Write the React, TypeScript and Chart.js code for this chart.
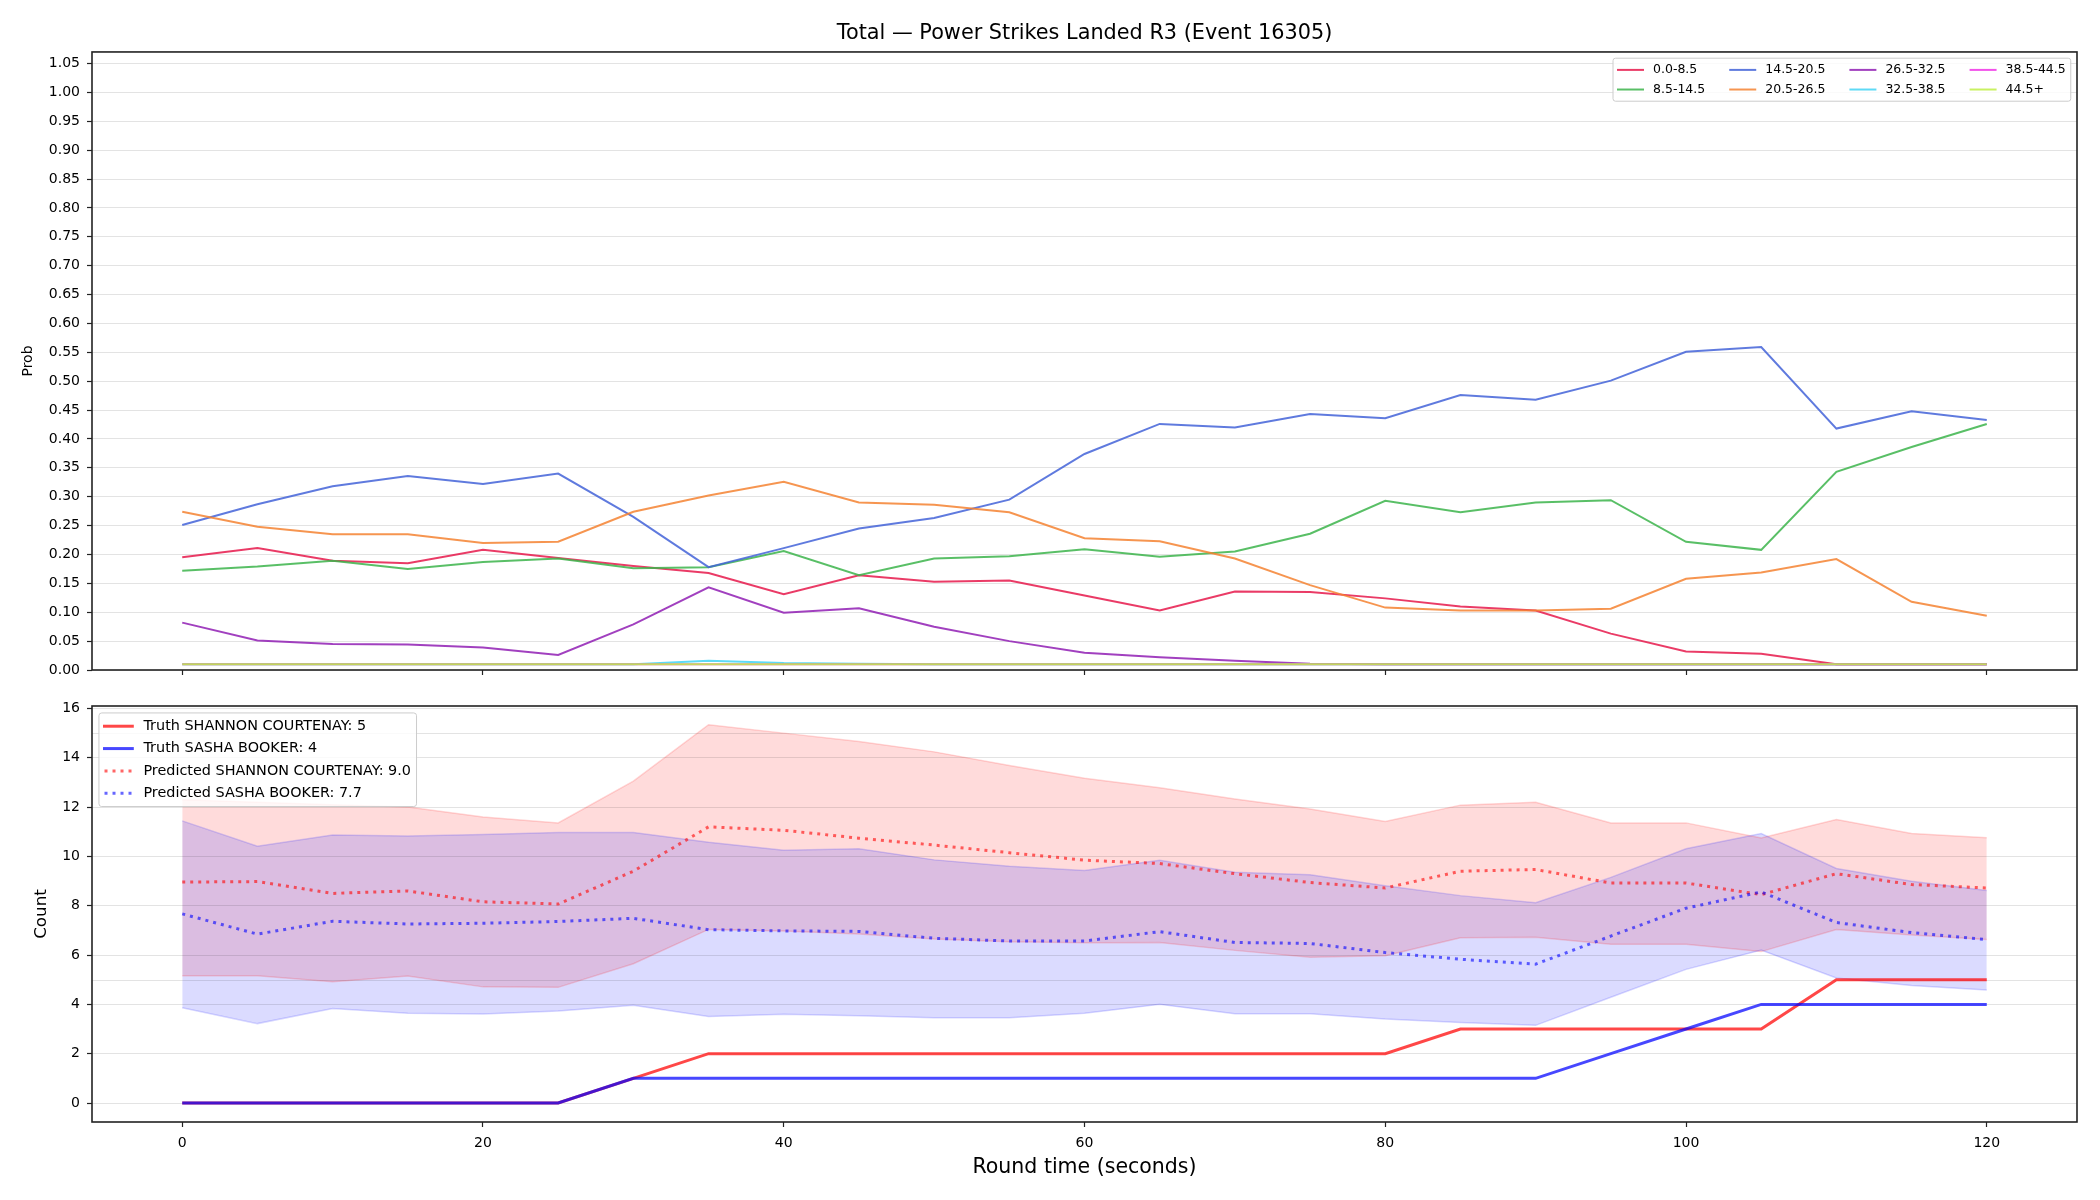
import React, { useEffect, useRef } from 'react';
import { Chart, registerables } from 'chart.js';

Chart.register(...registerables);

const FONT = "'DejaVu Sans', 'Liberation Sans', sans-serif";

const chartTitle = 'Total — Power Strikes Landed R3 (Event 16305)';
const xAxisTitle = 'Round time (seconds)';
const topYTitle = 'Prob';
const bottomYTitle = 'Count';
const fighterA = 'SHANNON COURTENAY';
const fighterB = 'SASHA BOOKER';

const roundTimes = [0, 5, 10, 15, 20, 25, 30, 35, 40, 45, 50, 55, 60, 65, 70, 75, 80, 85, 90, 95, 100, 105, 110, 115, 120];
const xTickValues = [0, 20, 40, 60, 80, 100, 120];
const probTickValues = [0, 0.05, 0.1, 0.15, 0.2, 0.25, 0.3, 0.35, 0.4, 0.45, 0.5, 0.55, 0.6, 0.65, 0.7, 0.75, 0.8, 0.85, 0.9, 0.95, 1.0, 1.05];
const countTickValues = [0, 2, 4, 6, 8, 10, 12, 14, 16];
const countRefLines = [5, 15];

const bucketLabels = ['0.0-8.5', '8.5-14.5', '14.5-20.5', '20.5-26.5', '26.5-32.5', '32.5-38.5', '38.5-44.5', '44.5+'];
const bucketColors = [
  'rgba(230,25,75,0.85)',
  'rgba(60,180,75,0.85)',
  'rgba(67,99,216,0.85)',
  'rgba(245,130,49,0.85)',
  'rgba(145,30,180,0.85)',
  'rgba(66,212,244,0.85)',
  'rgba(240,50,230,0.85)',
  'rgba(191,239,69,0.85)',
];

const prob_0_8 = [0.195, 0.211, 0.189, 0.185, 0.208, 0.194, 0.180, 0.168, 0.131, 0.164, 0.153, 0.155, 0.129, 0.103, 0.136, 0.135, 0.124, 0.110, 0.103, 0.063, 0.032, 0.028, 0.010, 0.010, 0.010];
const prob_8_14 = [0.172, 0.179, 0.189, 0.175, 0.187, 0.193, 0.176, 0.178, 0.206, 0.164, 0.193, 0.197, 0.209, 0.196, 0.205, 0.236, 0.293, 0.273, 0.290, 0.294, 0.222, 0.208, 0.343, 0.386, 0.426];
const prob_14_20 = [0.251, 0.287, 0.318, 0.336, 0.322, 0.340, 0.265, 0.178, 0.211, 0.245, 0.263, 0.295, 0.374, 0.426, 0.420, 0.443, 0.436, 0.476, 0.468, 0.501, 0.551, 0.559, 0.418, 0.448, 0.433];
const prob_20_26 = [0.274, 0.248, 0.235, 0.235, 0.220, 0.222, 0.274, 0.302, 0.326, 0.290, 0.286, 0.273, 0.228, 0.223, 0.193, 0.147, 0.108, 0.103, 0.103, 0.106, 0.158, 0.169, 0.192, 0.118, 0.094];
const prob_26_32 = [0.082, 0.051, 0.045, 0.044, 0.039, 0.026, 0.079, 0.143, 0.099, 0.107, 0.075, 0.050, 0.030, 0.022, 0.016, 0.011, 0.010, 0.010, 0.010, 0.010, 0.010, 0.010, 0.010, 0.010, 0.010];
const prob_32_38 = [0.010, 0.010, 0.010, 0.010, 0.010, 0.010, 0.010, 0.016, 0.012, 0.011, 0.010, 0.010, 0.010, 0.010, 0.010, 0.010, 0.010, 0.010, 0.010, 0.010, 0.010, 0.010, 0.010, 0.010, 0.010];
const prob_38_44 = [0.010, 0.010, 0.010, 0.010, 0.010, 0.010, 0.010, 0.010, 0.010, 0.010, 0.010, 0.010, 0.010, 0.010, 0.010, 0.010, 0.010, 0.010, 0.010, 0.010, 0.010, 0.010, 0.010, 0.010, 0.010];
const prob_44_up = [0.010, 0.010, 0.010, 0.010, 0.010, 0.010, 0.010, 0.010, 0.010, 0.010, 0.010, 0.010, 0.010, 0.010, 0.010, 0.010, 0.010, 0.010, 0.010, 0.010, 0.010, 0.010, 0.010, 0.010, 0.010];

const truthA = [0, 0, 0, 0, 0, 0, 1, 2, 2, 2, 2, 2, 2, 2, 2, 2, 2, 3, 3, 3, 3, 3, 5, 5, 5];
const truthB = [0, 0, 0, 0, 0, 0, 1, 1, 1, 1, 1, 1, 1, 1, 1, 1, 1, 1, 1, 2, 3, 4, 4, 4, 4];
const predA = [8.96, 8.98, 8.50, 8.60, 8.16, 8.07, 9.40, 11.20, 11.06, 10.74, 10.46, 10.15, 9.85, 9.71, 9.30, 8.94, 8.72, 9.40, 9.47, 8.92, 8.92, 8.45, 9.30, 8.86, 8.72];
const predB = [7.67, 6.85, 7.37, 7.26, 7.29, 7.36, 7.49, 7.03, 6.98, 6.96, 6.68, 6.57, 6.57, 6.95, 6.51, 6.47, 6.10, 5.83, 5.63, 6.77, 7.90, 8.56, 7.32, 6.91, 6.63];
const upperA = [12.3, 12.2, 12.1, 12.0, 11.6, 11.36, 13.05, 15.34, 15.0, 14.66, 14.24, 13.69, 13.17, 12.78, 12.33, 11.92, 11.42, 12.08, 12.2, 11.36, 11.36, 10.75, 11.5, 10.93, 10.76];
const lowerA = [5.16, 5.16, 4.92, 5.15, 4.71, 4.69, 5.65, 7.04, 6.98, 6.85, 6.65, 6.54, 6.5, 6.51, 6.19, 5.91, 5.97, 6.7, 6.72, 6.44, 6.44, 6.14, 7.04, 6.81, 6.63];
const upperB = [11.44, 10.41, 10.87, 10.83, 10.89, 10.97, 10.97, 10.57, 10.25, 10.31, 9.86, 9.6, 9.43, 9.84, 9.36, 9.26, 8.81, 8.41, 8.12, 9.15, 10.31, 10.93, 9.51, 8.99, 8.62];
const lowerB = [3.86, 3.22, 3.83, 3.64, 3.61, 3.73, 3.96, 3.51, 3.6, 3.54, 3.46, 3.46, 3.64, 4.0, 3.62, 3.62, 3.41, 3.27, 3.15, 4.29, 5.42, 6.2, 5.07, 4.77, 4.58];

const GRID = 'rgba(0,0,0,0.11)';
const TICKMARK = '#222';

const toPoints = (arr: number[]) => roundTimes.map((t, i) => ({ x: t, y: arr[i] }));

const framePlugin = {
  id: 'frame',
  afterDatasetsDraw(chart: any) {
    const { ctx, chartArea } = chart;
    ctx.save();
    ctx.strokeStyle = '#222';
    ctx.lineWidth = 1.6;
    ctx.strokeRect(chartArea.left, chartArea.top, chartArea.right - chartArea.left, chartArea.bottom - chartArea.top);
    ctx.restore();
  },
};

const refLinePlugin = {
  id: 'refLines',
  beforeDatasetsDraw(chart: any, _a: any, opts: any) {
    const { ctx, chartArea } = chart;
    const ys = chart.scales.y;
    ctx.save();
    ctx.strokeStyle = opts.color;
    ctx.lineWidth = 1;
    for (const v of opts.values) {
      const py = Math.round(ys.getPixelForValue(v)) + 0.5;
      ctx.beginPath();
      ctx.moveTo(chartArea.left, py);
      ctx.lineTo(chartArea.right, py);
      ctx.stroke();
    }
    ctx.restore();
  },
};

const mplLegendPlugin = {
  id: 'mplLegend',
  afterDraw(chart: any, _a: any, opts: any) {
    const { ctx, chartArea } = chart;
    const fs = opts.fontSize;
    const tfs = opts.textSize || fs;
    const items = opts.indices.map((i: number) => chart.data.datasets[i]);
    const ncol = opts.ncol;
    const nrow = Math.ceil(items.length / ncol);
    ctx.save();
    ctx.font = `${tfs}px ${FONT}`;
    const borderpad = 0.4 * fs;
    const handle = 2 * fs;
    const textpad = 0.8 * fs;
    const colsp = 2 * fs;
    const labelsp = 0.5 * fs;
    const axpad = 0.5 * fs;
    const rowH = 1.07 * tfs;
    const cols: any[][] = [];
    for (let c = 0; c < ncol; c++) {
      const ci = items.slice(c * nrow, (c + 1) * nrow);
      if (ci.length) cols.push(ci);
    }
    const colW = cols.map((ci) => handle + textpad + Math.max(...ci.map((d: any) => ctx.measureText(d.label).width)));
    const boxW = 2 * borderpad + colW.reduce((a, b) => a + b, 0) + colsp * (cols.length - 1);
    const boxH = 2 * borderpad + nrow * rowH + (nrow - 1) * labelsp;
    const bx = opts.loc === 'upper right' ? chartArea.right - axpad - boxW : chartArea.left + axpad;
    const by = chartArea.top + axpad;
    const r = 0.2 * fs;
    ctx.beginPath();
    ctx.moveTo(bx + r, by);
    ctx.lineTo(bx + boxW - r, by);
    ctx.arcTo(bx + boxW, by, bx + boxW, by + r, r);
    ctx.lineTo(bx + boxW, by + boxH - r);
    ctx.arcTo(bx + boxW, by + boxH, bx + boxW - r, by + boxH, r);
    ctx.lineTo(bx + r, by + boxH);
    ctx.arcTo(bx, by + boxH, bx, by + boxH - r, r);
    ctx.lineTo(bx, by + r);
    ctx.arcTo(bx, by, bx + r, by, r);
    ctx.closePath();
    ctx.fillStyle = 'rgba(255,255,255,0.8)';
    ctx.fill();
    ctx.strokeStyle = '#cccccc';
    ctx.lineWidth = 1;
    ctx.stroke();
    let cx = bx + borderpad;
    cols.forEach((ci, c) => {
      ci.forEach((d: any, rIdx: number) => {
        const cy = by + borderpad + rIdx * (rowH + labelsp) + rowH / 2;
        ctx.save();
        ctx.strokeStyle = d.borderColor;
        ctx.lineWidth = d.borderWidth;
        const dash = d.borderDash && d.borderDash.length ? d.borderDash : [];
        ctx.setLineDash(dash);
        ctx.lineCap = dash.length ? 'butt' : 'square';
        ctx.beginPath();
        ctx.moveTo(cx, cy);
        ctx.lineTo(cx + handle, cy);
        ctx.stroke();
        ctx.restore();
        ctx.fillStyle = '#000';
        ctx.textBaseline = 'middle';
        ctx.textAlign = 'left';
        ctx.fillText(d.label, cx + handle + textpad, cy);
      });
      cx += colW[c] + colsp;
    });
    ctx.restore();
  },
};

function xScale(showLabels: boolean, fitHeight: number) {
  return {
    type: 'linear',
    min: -6,
    max: 126,
    afterBuildTicks: (s: any) => {
      s.ticks = xTickValues.map((v) => ({ value: v }));
    },
    afterFit: (s: any) => {
      s.height = fitHeight;
    },
    grid: { drawOnChartArea: false, drawTicks: true, tickLength: 5, tickColor: TICKMARK, tickWidth: 1.2, color: GRID },
    border: { display: false },
    ticks: {
      display: showLabels,
      padding: 8,
      color: '#000',
      autoSkip: false,
      maxRotation: 0,
      font: { family: FONT, size: 14 },
      callback: (v: any) => String(v),
    },
    title: showLabels
      ? { display: true, text: xAxisTitle, color: '#000', font: { family: FONT, size: 20.5 }, padding: { top: 0, bottom: 19.7 } }
      : { display: false },
  };
}

function yScale(min: number, max: number, tickVals: number[], fmt: (v: number) => string, title: string, titleSize: number, titlePad: number) {
  return {
    min,
    max,
    afterBuildTicks: (s: any) => {
      s.ticks = tickVals.map((v) => ({ value: v }));
    },
    afterFit: (s: any) => {
      s.width = 92;
    },
    grid: { color: GRID, lineWidth: 1, drawTicks: true, tickLength: 5, tickColor: TICKMARK, tickWidth: 1.2 },
    border: { display: false },
    ticks: { padding: 7, color: '#000', autoSkip: false, font: { family: FONT, size: 14 }, callback: (v: any) => fmt(Number(v)) },
    title: { display: true, text: title, color: '#000', font: { family: FONT, size: titleSize }, padding: { top: titlePad, bottom: 0 } },
  };
}

export default function App() {
  const topRef = useRef<HTMLCanvasElement>(null);
  const botRef = useRef<HTMLCanvasElement>(null);

  useEffect(() => {
    document.body.style.margin = '0';
    const bucketSeries = [prob_0_8, prob_8_14, prob_14_20, prob_20_26, prob_26_32, prob_32_38, prob_38_44, prob_44_up];
    const topDatasets = bucketSeries.map((s, i) => ({
      label: bucketLabels[i],
      data: toPoints(s),
      borderColor: bucketColors[i],
      backgroundColor: bucketColors[i],
      borderWidth: 2,
      pointRadius: 0,
      tension: 0,
      fill: false,
      order: bucketSeries.length - 1 - i,
    }));

    const topChart = new Chart(topRef.current as HTMLCanvasElement, {
      type: 'line',
      data: { datasets: topDatasets as any },
      options: {
        responsive: false,
        animation: false,
        devicePixelRatio: 1,
        events: [],
        layout: { padding: { left: 0, right: 23, top: 0, bottom: 0 } },
        scales: {
          x: xScale(false, 20) as any,
          y: yScale(0, 1.07, probTickValues, (v) => v.toFixed(2), topYTitle, 14, 20.4) as any,
        },
        plugins: {
          legend: { display: false },
          tooltip: { enabled: false },
          title: {
            display: true,
            fullSize: false,
            text: chartTitle,
            color: '#000',
            font: { family: FONT, size: 20.8, weight: 'normal' },
            padding: { top: 21.5, bottom: 5.5 },
          },
          mplLegend: { fontSize: 12.5, ncol: 4, loc: 'upper right', indices: [0, 1, 2, 3, 4, 5, 6, 7] },
        } as any,
      },
      plugins: [framePlugin, mplLegendPlugin],
    });

    const bandA = 'rgba(255,0,0,0.14)';
    const bandB = 'rgba(0,0,255,0.14)';
    const botDatasets = [
      { label: 'upperA', data: toPoints(upperA), borderColor: 'rgba(255,0,0,0.16)', backgroundColor: bandA, borderWidth: 1.5, pointRadius: 0, fill: '+1', order: 7 },
      { label: 'lowerA', data: toPoints(lowerA), borderColor: 'rgba(255,0,0,0.16)', backgroundColor: bandA, borderWidth: 1.5, pointRadius: 0, fill: false, order: 6 },
      { label: 'upperB', data: toPoints(upperB), borderColor: 'rgba(0,0,255,0.16)', backgroundColor: bandB, borderWidth: 1.5, pointRadius: 0, fill: '+1', order: 5 },
      { label: 'lowerB', data: toPoints(lowerB), borderColor: 'rgba(0,0,255,0.16)', backgroundColor: bandB, borderWidth: 1.5, pointRadius: 0, fill: false, order: 4 },
      { label: `Truth ${fighterA}: ${truthA[truthA.length - 1]}`, data: toPoints(truthA), borderColor: 'rgba(255,0,0,0.72)', borderWidth: 3, pointRadius: 0, fill: false, order: 3 },
      { label: `Truth ${fighterB}: ${truthB[truthB.length - 1]}`, data: toPoints(truthB), borderColor: 'rgba(0,0,255,0.72)', borderWidth: 3, pointRadius: 0, fill: false, order: 2 },
      { label: `Predicted ${fighterA}: ${predA[0].toFixed(1)}`, data: toPoints(predA), borderColor: 'rgba(255,0,0,0.6)', borderWidth: 3, borderDash: [3, 5], pointRadius: 0, fill: false, order: 1 },
      { label: `Predicted ${fighterB}: ${predB[0].toFixed(1)}`, data: toPoints(predB), borderColor: 'rgba(0,0,255,0.6)', borderWidth: 3, borderDash: [3, 5], pointRadius: 0, fill: false, order: 0 },
    ];

    const botChart = new Chart(botRef.current as HTMLCanvasElement, {
      type: 'line',
      data: { datasets: botDatasets as any },
      options: {
        responsive: false,
        animation: false,
        devicePixelRatio: 1,
        events: [],
        layout: { padding: { left: 0, right: 23, top: 16, bottom: 0 } },
        scales: {
          x: xScale(true, 78) as any,
          y: yScale(-0.77, 16.1, countTickValues, (v) => String(v), bottomYTitle, 16.7, 31.5) as any,
        },
        plugins: {
          legend: { display: false },
          tooltip: { enabled: false },
          filler: { drawTime: 'beforeDraw' },
          refLines: { values: countRefLines, color: GRID },
          mplLegend: { fontSize: 13.9, textSize: 14.4, ncol: 1, loc: 'upper left', indices: [4, 5, 6, 7] },
        } as any,
      },
      plugins: [refLinePlugin, framePlugin, mplLegendPlugin],
    });

    return () => {
      topChart.destroy();
      botChart.destroy();
    };
  }, []);

  return (
    <div style={{ position: 'relative', width: 2100, height: 1200, background: '#fff' }}>
      <style>{'body{margin:0}'}</style>
      <canvas ref={topRef} width={2100} height={690} style={{ position: 'absolute', left: 0, top: 0, width: 2100, height: 690 }} />
      <canvas ref={botRef} width={2100} height={510} style={{ position: 'absolute', left: 0, top: 690, width: 2100, height: 510 }} />
    </div>
  );
}
